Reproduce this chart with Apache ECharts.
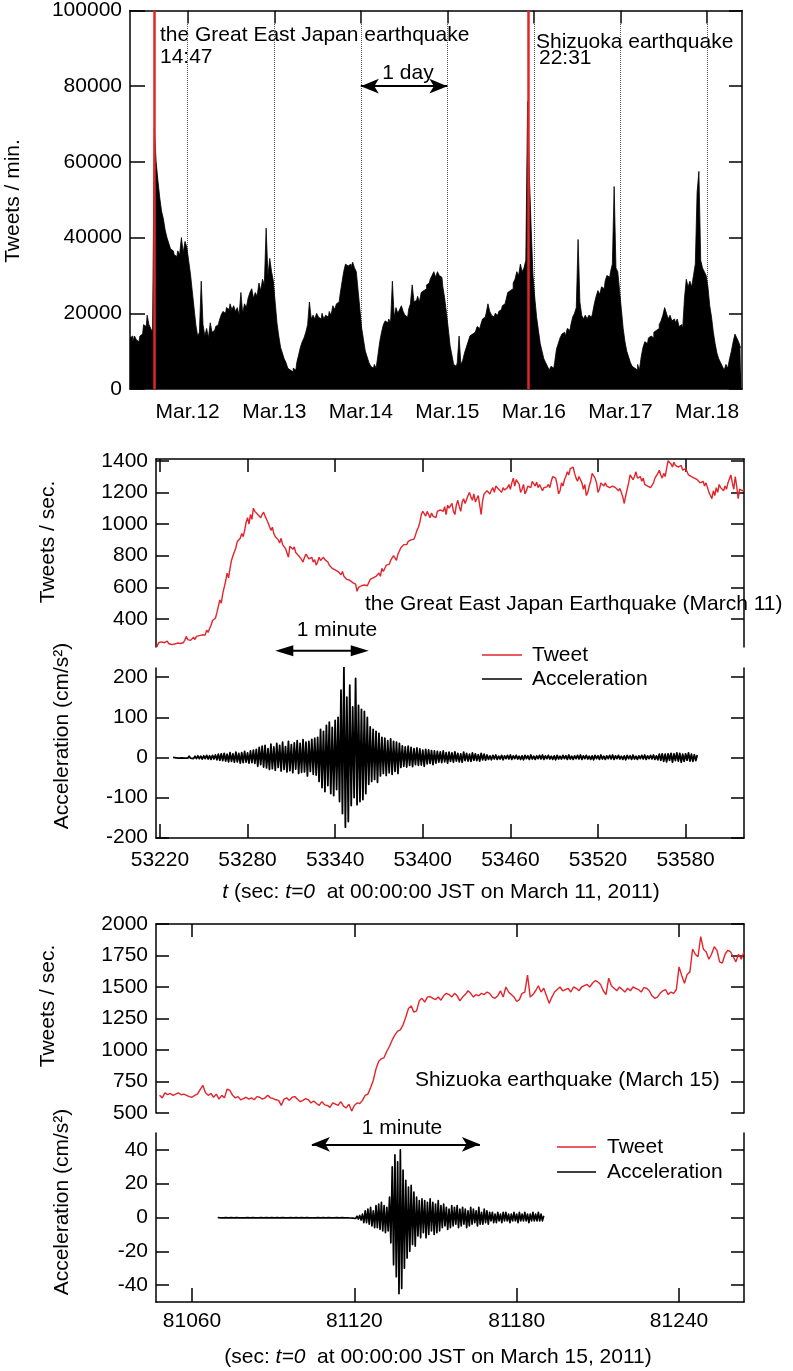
<!DOCTYPE html>
<html><head><meta charset="utf-8">
<script src="https://cdn.jsdelivr.net/npm/echarts@6.0.0/dist/echarts.min.js"></script>
<style>html,body{margin:0;padding:0;background:#fff}#c{width:793px;height:1371px}</style>
</head><body><div id="c"></div><script>
// ---------- DATA ----------
// Top panel: tweets per minute (thousands), hours since 00:00 Mar.11, 0.5 h step from 8 h
const histStartHour = 8;
const histStepHour = 0.5;
const histThousands = [
13.5,14,12.5,14,13,12.5,14,14.5,17,16.5,
19.5,17,16,15,69,60,55,50.5,47,45,
42,40,38.5,37,36.5,35.5,35,36.5,35.5,40,
36,39,37.5,34,30.5,26,21.5,17,14,15,
28.5,17,14,16,13.5,17.5,15,15.5,16.5,17,
18,19.5,20.5,20,21.5,21,22.5,21,22,20.5,
21.5,19.5,25.5,20,22.5,21.5,24,25.5,26.5,24,
25.5,24.5,28,26,29,27.5,42.5,30,34.5,31,
28.5,23,17.5,14,11,9.5,8,7,5.5,5,
4.5,5.5,5,7,9,11,12.5,13.5,15,17,
23,18.5,19.5,18.5,20,19,18.5,20,18.5,19.5,
19,20.5,19.5,22,21,22.5,23,25,28,31,
33,32.5,33,32,33.5,32,31,26,21,16,
13,10,8.5,7,6,5.5,6.5,5.5,9,12.5,
15,17,18,17.5,18.5,17.5,28.5,19,21.5,20,
21,22,20.5,19.5,19,21,22.5,27.5,23,23.5,
24.5,23,25.5,26,26.5,27.5,28,29,30,31,
29.5,31,30,29.5,27,24,20,16,11.5,9,
6.5,6,7,14,6.5,7.5,9.5,11,12.5,14,
14.5,15,15.5,16.5,16,17,18.5,19,20,22.5,
20.5,19.5,19,20,19.5,20.5,21,22,22.5,23.5,
25.5,26,26.5,28,29,31,30,33,31,32,
34,76,56,42,30,24,19,15.5,12,10,
8,7,6,5,6,5.5,7,10.5,12,13.5,
14.5,15,14,16,15.5,17,19,20,21.5,39.5,
23,19.5,18.5,19.5,18.5,19.5,19,20,22.5,24.5,
26,25,27,26.5,28.5,30,29.5,31,33,53.5,
32,31,26,21,16,12.5,10,8.5,7,6,
5.5,5,6.5,5,8.5,11,12.5,12,13.5,14,
13.5,15,15.5,16,17,18,19.5,21.5,20,18.5,
19.5,18,18.5,17.5,18.5,16.5,17,16,24,29,
27,28.5,27,30,33,52,57.5,34,32,31,
30,27,22,19,15,12,9.5,8,7,6,
5,6.5,5.5,8,10,12.5,14.5,13.5,12.5,11
];
const dayHours = [24,48,72,96,120,144,168];
const dayLabels = ['Mar.12','Mar.13','Mar.14','Mar.15','Mar.16','Mar.17','Mar.18'];
const quakeHours = [14.78, 118.52];      // 14:47 Mar.11, 22:31 Mar.15
const topYTicks = [0,20000,40000,60000,80000,100000];
const oneDayArrow = {from:72, to:96, level:80000};

// Middle panel: March 11 (seconds since 00:00:00 JST)
const m11TweetStart = 53218;
const m11Tweets = [
225,250,240,255,245,250,240,260,245,250,
238,250,242,236,248,240,245,235,250,265,
290,270,280,265,275,285,270,290,280,295,
285,300,310,298,330,315,340,360,390,400,
405,440,480,520,500,560,600,640,690,660,
720,770,800,790,850,890,880,910,940,920,
960,1010,1040,1000,1060,1030,1100,1080,1070,1060,
1070,1040,1060,1075,1050,1030,1010,1000,960,980,
940,920,930,900,880,910,870,880,845,850,
790,860,870,840,855,820,830,800,810,775,
760,790,810,800,780,770,790,760,775,740,
760,790,770,780,790,775,765,760,740,745,
720,730,710,715,700,690,680,700,670,660,
650,660,645,650,630,640,620,575,600,590,
610,620,615,625,610,630,650,640,660,650,
670,680,690,670,720,700,705,740,730,745,
770,760,800,790,770,810,830,850,840,870,
880,870,890,885,900,890,905,930,960,980,
1010,1060,1080,1070,1050,1080,1060,1040,1070,1050,
1060,1040,1080,1070,1090,1100,1080,1110,1060,1120,
1100,1090,1130,1080,1060,1120,1150,1110,1080,1140,
1160,1130,1120,1180,1200,1170,1150,1190,1140,1160,
1180,1120,1060,1150,1190,1180,1210,1200,1190,1215,
1230,1200,1240,1250,1220,1210,1200,1230,1215,1210,
1230,1250,1220,1260,1290,1240,1280,1270,1250,1200,
1220,1250,1190,1210,1240,1250,1230,1270,1260,1240,
1265,1230,1250,1240,1210,1230,1240,1235,1250,1230,
1270,1300,1310,1290,1250,1190,1210,1260,1240,1280,
1300,1330,1310,1350,1340,1360,1320,1290,1270,1300,
1280,1260,1220,1250,1180,1200,1240,1270,1320,1330,
1290,1260,1200,1220,1260,1250,1240,1260,1240,1250,
1230,1220,1240,1250,1230,1220,1210,1225,1200,1170,
1130,1180,1220,1260,1310,1320,1280,1300,1330,1290,
1280,1300,1270,1290,1250,1260,1240,1250,1230,1220,
1260,1290,1300,1320,1340,1310,1290,1320,1300,1350,
1400,1390,1380,1360,1390,1370,1380,1360,1350,1370,
1340,1330,1350,1330,1310,1320,1300,1310,1290,1300,
1280,1290,1260,1250,1270,1240,1260,1230,1200,1180,
1160,1210,1180,1230,1200,1250,1230,1220,1210,1240,
1220,1260,1250,1310,1260,1220,1300,1240,1160,1220,
1230,1210,1220
];
const m11AccStart = 53229;
const m11Acc = [
0,1,-1,1,-2,1,-1,2,-2,2,-2,3,-2,2,-3,3,-3,4,-3,3,-4,4,-3,5,-4,4,-5,5,-4,6,
-6,8,-7,9,-8,10,-9,8,-11,12,-10,9,-12,13,-11,10,-14,12,-13,15,-12,11,-14,16,-13,18,-15,
20,-22,25,-18,28,-24,30,-26,22,-30,33,-28,26,-32,35,-25,30,-34,38,-30,27,-36,40,-33,32,-38,36,-29,42,-40,35,-37,44,-36,38,-46,40,-35,45,-42,48,-44,50,
-60,70,-75,65,-85,80,-70,88,-90,75,-95,92,-80,100,
-110,168,-140,225,-174,150,-160,180,
-120,126,-100,197,-118,130,-110,120,-105,115,-90,100,
-67,76,-60,70,-55,65,-62,60,
-46,50,-40,48,-45,42,-38,46,-42,40,-35,38,-40,35,
-25,29,-22,26,-24,28,-20,25,-23,22,-18,24,-20,21,-19,18,-22,20,-16,19,-15,17,-18,16,-14,
15,-12,14,-13,16,-11,12,-14,13,-10,11,-12,14,-9,10,-11,9,-12,13,-8,10,-9,8,-10,11,-7,9,-8,7,-9,10,-6,8,-7,
6,-5,4,-6,5,-4,6,-5,3,-4,5,-6,4,-3,5,-4,6,-5,4,-3,
5,-4,3,-5,4,-6,5,-3,4,-5,6,-4,3,-5,4,-3,5,-4,6,-5,
4,-3,5,-4,3,-5,4,-6,5,-4,3,-4,5,-3,4,-5,6,-4,3,-5,
4,-3,5,-4,6,-5,4,-3,5,-4,3,-5,4,-6,5,-3,4,-5,6,-4,
3,-5,4,-3,5,-4,6,-5,4,-3,5,-4,3,-5,4,-6,5,-3,4,-5,
6,-4,3,-5,4,-3,5,-4,6,-5,4,-3,5,-4,6,-5,4,
-6,8,-7,9,-10,8,-11,9,-7,10,-12,9,-8,11,-9,10,-12,8,-10,9,-7,11,-9,8,-10,7,-8,6
];
const m11XTicks = [53220,53280,53340,53400,53460,53520,53580];
const m11TweetTicks = [400,600,800,1000,1200,1400];
const m11AccTicks = [-200,-100,0,100,200];
const m11MinuteArrow = {from:53299, to:53363, level:266};

// Bottom panel: March 15
const m15TweetStart = 81048;
const m15Tweets = [
640,620,660,645,655,640,650,660,645,650,
640,630,625,640,650,685,720,660,640,655,
625,650,610,640,620,690,680,640,620,630,
605,615,625,610,620,605,630,625,610,620,
640,620,615,605,600,560,610,620,600,625,
630,610,590,600,615,605,580,595,575,560,
590,565,560,545,580,570,560,590,555,540,
570,515,560,580,575,600,640,650,700,760,
850,910,930,940,990,1030,1080,1120,1150,1160,
1200,1260,1330,1350,1300,1310,1390,1410,1380,1420,
1425,1410,1400,1420,1395,1430,1450,1440,1420,1450,
1430,1390,1420,1440,1470,1450,1420,1440,1430,1450,
1440,1460,1450,1420,1410,1430,1470,1420,1500,1460,
1440,1420,1385,1400,1450,1460,1595,1420,1440,1470,
1510,1460,1490,1430,1370,1420,1460,1480,1500,1470,
1480,1490,1460,1500,1490,1470,1500,1510,1520,1500,
1530,1550,1540,1520,1470,1440,1570,1510,1490,1470,
1500,1480,1460,1490,1470,1500,1490,1480,1460,1495,
1490,1470,1430,1410,1420,1450,1470,1480,1440,1460,
1450,1480,1660,1590,1530,1600,1620,1800,1760,1740,
1900,1800,1780,1720,1760,1820,1790,1700,1690,1760,
1790,1780,1740,1700,1760,1720,1780
];
const m15AccStart = 81069.5;
const m15AccStep = 0.5;
const m15Acc = [
0,0.2,-0.2,0.1,-0.2,0.2,-0.1,0.2,-0.2,0.1,
-0.1,0.2,-0.2,0.2,-0.1,0.1,-0.2,0.2,-0.2,0.1,
-0.2,0.1,-0.1,0.2,-0.2,0.2,-0.1,0.1,-0.2,0.2,
-0.2,0.1,-0.1,0.2,-0.2,0.2,-0.1,0.1,-0.2,0.2,
-0.1,0.2,-0.2,0.1,-0.1,0.2,-0.2,0.2,-0.1,0.1,
-0.2,0.2,-0.2,0.1,-0.1,0.2,-0.2,0.2,-0.1,0.2,
-0.2,0.1,-0.1,0.2,-0.2,0.2,-0.1,0.1,-0.2,0.2,
-0.2,0.1,-0.2,0.2,-0.1,0.2,-0.2,0.1,-0.1,0.2,
-0.2,0.2,-0.1,0.1,-0.2,0.2,-0.2,0.1,-0.1,0.2,
-0.2,0.2,-0.1,0.2,-0.2,0.1,-0.2,0.3,-0.3,0.4,
-0.4,0.5,-0.6,0.8,-0.9,1.2,-1.5,
2,-3,4,-3,5,-4,6,-5,4,-6,
7,-6,8,-7,9,-8,7,-9,6,-8,
12,-15,30,-28,37,-35,33,-45,40,-42,28,-30,
22,-24,18,-20,19,-16,15,-17,
12,-11,10,-12,11,-9,10,-12,9,-10,11,-8,9,-10,8,-9,10,-8,
7,-6,8,-5,6,-7,5,-6,7,-5,6,-4,7,-6,5,-5,6,-4,5,-6,4,-5,6,-4,5,-3,4,-5,6,-4,3,-4,5,-3,4,-4,
3,-2,3,-3,2,-3,3,-2,2,-3,3,-2,3,-2,2,-3,2,-2,3,-2,2,-3,3,-2,2,-2,3,-2,2,-3,2,-2,3,-2,2,-2,3,-2,2,-2,1
];
const m15XTicks = [81060,81120,81180,81240];
const m15TweetTicks = [500,750,1000,1250,1500,1750,2000];
const m15AccTicks = [-40,-20,0,20,40];
const m15MinuteArrow = {from:81104.3, to:81166.4, level:43.3};

// ---------- CHART ----------
const FONT = '"Liberation Sans", Arial, Helvetica, sans-serif';
const FS = 21;
const RED = '#e3242b';
const AX = {color:'#000', width:1.5};
const fmt = v => String(v);

function xAx(grid, min, max, pos, ticks, showLabels, tickLen, labelFmt, margin) {
  return {type:'value', gridIndex:grid, min, max, position:pos,
    axisLine:{show:true, onZero:false, lineStyle:AX},
    axisTick:{show:true, inside:true, length:tickLen, customValues:ticks, lineStyle:AX},
    axisLabel:{show:showLabels, customValues:ticks, formatter:labelFmt || fmt, fontSize:FS, fontFamily:FONT, color:'#000', margin:margin||12},
    splitLine:{show:false}, minorTick:{show:false}};
}
function yAx(grid, min, max, pos, ticks, showLabels, tickLen, margin) {
  return {type:'value', gridIndex:grid, min, max, position:pos,
    axisLine:{show:true, onZero:false, lineStyle:AX},
    axisTick:{show:true, inside:true, length:tickLen, customValues:ticks, lineStyle:AX},
    axisLabel:{show:showLabels, customValues:ticks, formatter:fmt, fontSize:FS, fontFamily:FONT, color:'#000', margin:margin||8},
    splitLine:{show:false}};
}

const histData = histThousands.map((v,i)=>[histStartHour + i*histStepHour, v*1000]);
const m11TweetData = m11Tweets.map((v,i)=>[m11TweetStart+i, v]);
const m11AccData = m11Acc.map((v,i)=>[m11AccStart+i, v]);
const m15TweetData = m15Tweets.map((v,i)=>[m15TweetStart+i, v]);
const m15AccData = m15Acc.map((v,i)=>[m15AccStart+i*m15AccStep, v]);

const arrowML = (a) => ({silent:true, symbol:['arrow','arrow'], symbolSize:[11,18], label:{show:false},
  lineStyle:{color:'#000', width:1.8, type:'solid'}, emphasis:{disabled:true},
  data:[[{coord:[a.from,a.level]},{coord:[a.to,a.level]}]]});

const txt = (text, x, y, align) => ({type:'text', x, y, silent:true,
  style:{text, fontSize:FS, fontFamily:FONT, fill:'#000', align:align||'left', verticalAlign:'middle'}});
const vtxt = (text, x, y) => ({type:'text', x, y, rotation:Math.PI/2, silent:true,
  style:{text, fontSize:FS, fontFamily:FONT, fill:'#000', align:'center', verticalAlign:'middle'}});
const seg = (x1,y1,x2,color) => ({type:'line', silent:true, shape:{x1,y1,x2,y2:y1}, style:{stroke:color, lineWidth:1.6}});
const rich = (text, x, y) => ({type:'text', x, y, silent:true,
  style:{text, fontSize:FS, fontFamily:FONT, fill:'#000', align:'center', verticalAlign:'middle',
    rich:{i:{fontStyle:'italic', fontSize:FS, fontFamily:FONT, fill:'#000'}}}});

const graphics = [
  txt('the Great East Japan earthquake', 160, 35),
  txt('14:47', 160, 57),
  txt('Shizuoka earthquake', 536, 42),
  txt('22:31', 539, 58),
  txt('1 day', 408, 73, 'center'),
  vtxt('Tweets / min.', 13, 201),
  vtxt('Tweets / sec.', 48, 542),
  vtxt('Acceleration (cm/s²)', 62, 736),
  vtxt('Tweets / sec.', 48, 1006),
  vtxt('Acceleration (cm/s²)', 62, 1202),
  txt('the Great East Japan Earthquake (March 11)', 365, 604),
  txt('1 minute', 337, 630, 'center'),
  seg(482, 655, 522, RED), txt('Tweet', 532, 655),
  seg(482, 679, 522, '#000'), txt('Acceleration', 532, 679),
  rich('{i|t} (sec: {i|t=0}  at 00:00:00 JST on March 11, 2011)', 441, 892),
  txt('Shizuoka earthquake (March 15)', 415, 1080),
  txt('1 minute', 402, 1128, 'center'),
  seg(557, 1147, 596, RED), txt('Tweet', 607, 1147),
  seg(557, 1172, 596, '#000'), txt('Acceleration', 607, 1172),
  rich('(sec: {i|t=0}  at 00:00:00 JST on March 15, 2011)', 438, 1357)
];

const chart = echarts.init(document.getElementById('c'), null, {renderer:'canvas'});
chart.setOption({
  animation:false,
  backgroundColor:'#fff',
  grid:[
    {left:130, top:10, width:612, height:379},
    {left:156, top:459, width:588, height:188},
    {left:156, top:668, width:588, height:170},
    {left:156, top:924, width:588, height:189},
    {left:156, top:1133, width:588, height:169}
  ],
  xAxis:[
    xAx(0, 8, 177.7, 'bottom', dayHours, true, 5, v=>dayLabels[dayHours.indexOf(v)], 13),
    xAx(0, 8, 177.7, 'top', dayHours, false, 13),
    xAx(1, 53217.3, 53620, 'top', m11XTicks, false, 13),
    xAx(2, 53217.3, 53620, 'bottom', m11XTicks, true, 14, null, 12),
    xAx(3, 81046.7, 81264, 'top', m15XTicks, false, 13),
    xAx(4, 81046.7, 81264, 'bottom', m15XTicks, true, 14, null, 9)
  ],
  yAxis:[
    yAx(0, 0, 100000, 'left', topYTicks, true, 15),
    yAx(0, 0, 100000, 'right', topYTicks, false, 13),
    yAx(1, 223, 1411, 'left', m11TweetTicks, true, 13),
    yAx(1, 223, 1411, 'right', m11TweetTicks, false, 13),
    yAx(2, -201, 223, 'left', m11AccTicks, true, 13),
    yAx(2, -201, 223, 'right', m11AccTicks, false, 13),
    yAx(3, 500, 2000, 'left', m15TweetTicks, true, 13),
    yAx(3, 500, 2000, 'right', m15TweetTicks, false, 13),
    yAx(4, -50, 50, 'left', m15AccTicks, true, 13),
    yAx(4, -50, 50, 'right', m15AccTicks, false, 13)
  ],
  series:[
    {type:'line', name:'days', xAxisIndex:0, yAxisIndex:0, data:[], z:1,
      markLine:{silent:true, z:1, symbol:'none', label:{show:false},
        lineStyle:{type:'dotted', color:'#555', width:1}, data:dayHours.map(h=>({xAxis:h}))}},
    {type:'line', name:'Tweets/min', xAxisIndex:0, yAxisIndex:0, data:histData, step:'middle',
      symbol:'none', z:2, lineStyle:{color:'#000', width:0.8}, areaStyle:{color:'#000', opacity:1},
      markLine:{silent:true, symbol:'none', label:{show:false},
        lineStyle:{type:'solid', color:RED, width:2.5}, data:quakeHours.map(h=>({xAxis:h}))}},
    {type:'line', name:'arrowDay', xAxisIndex:0, yAxisIndex:0, data:[], markLine:arrowML(oneDayArrow)},
    {type:'line', name:'Tweet', xAxisIndex:2, yAxisIndex:2, data:m11TweetData, symbol:'none',
      lineStyle:{color:RED, width:1.4}},
    {type:'line', name:'Acceleration', xAxisIndex:3, yAxisIndex:4, data:m11AccData, symbol:'none',
      lineStyle:{color:'#000', width:1.8, join:'round'}},
    {type:'line', name:'Tweet', xAxisIndex:4, yAxisIndex:6, data:m15TweetData, symbol:'none',
      lineStyle:{color:RED, width:1.4}},
    {type:'line', name:'Acceleration', xAxisIndex:5, yAxisIndex:8, data:m15AccData, symbol:'none', clip:false,
      lineStyle:{color:'#000', width:1.7, join:'round'}, markLine:arrowML(m15MinuteArrow)}
  ],
  graphic:graphics
});

// "1 minute" arrow of the March 11 panel sits between the two sub-plots: place it through the axis scales
const ax1 = chart.convertToPixel({xAxisIndex:3}, m11MinuteArrow.from);
const ax2 = chart.convertToPixel({xAxisIndex:3}, m11MinuteArrow.to);
const ay = chart.convertToPixel({yAxisIndex:4}, m11MinuteArrow.level);
const hl = 18, hw = 5.5;
graphics.push(
  {type:'line', silent:true, shape:{x1:ax1+hl-2, y1:ay, x2:ax2-hl+2, y2:ay}, style:{stroke:'#000', lineWidth:1.8}},
  {type:'polygon', silent:true, shape:{points:[[ax1,ay],[ax1+hl,ay-hw],[ax1+hl,ay+hw]]}, style:{fill:'#000'}},
  {type:'polygon', silent:true, shape:{points:[[ax2,ay],[ax2-hl,ay-hw],[ax2-hl,ay+hw]]}, style:{fill:'#000'}}
);
chart.setOption({graphic:graphics});
</script></body></html>
